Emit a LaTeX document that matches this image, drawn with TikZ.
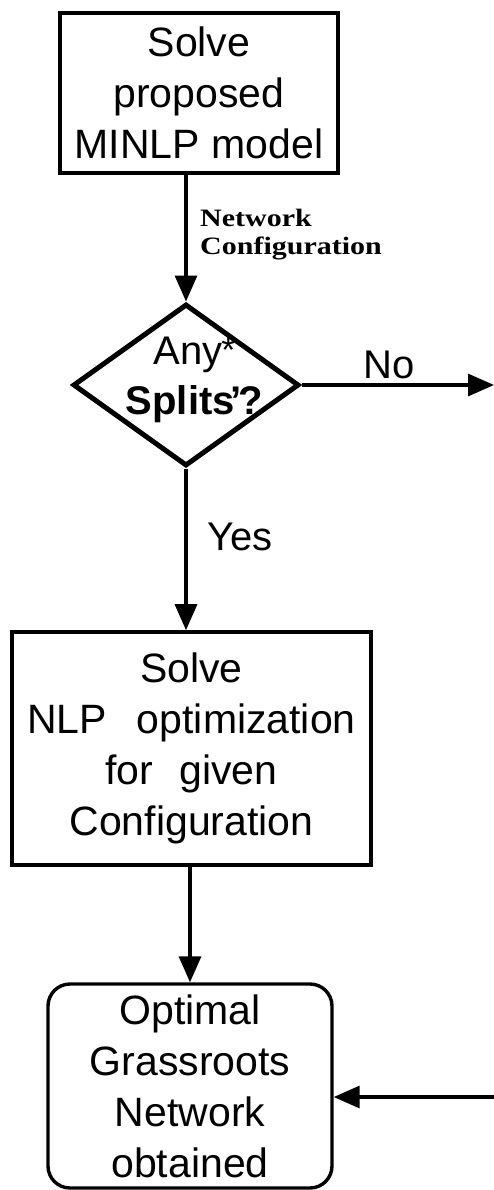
\documentclass[tikz,border=0pt]{standalone}
\usepackage{fontspec}
\usepackage{graphicx}
\setmainfont{Liberation Sans}
\newfontfamily\labelfont{Liberation Serif}
\usetikzlibrary{shapes.geometric,arrows.meta}

\tikzset{
  flowtext/.style={font=\fontsize{41}{51}\selectfont, align=center},
  procbox/.style={draw, rectangle, line width=3.6pt, inner sep=0pt, flowtext},
  endbox/.style={draw, rectangle, rounded corners=22pt, line width=3.4pt, inner sep=0pt, flowtext},
  decision/.style={draw, diamond, line width=5pt, inner sep=0pt},
  flow/.style={line width=3.3pt, -{Triangle[length=26pt,width=22pt]}},
  edgelabel/.style={font=\fontsize{40}{50}\selectfont, inner sep=0pt},
}

\begin{document}
\begin{tikzpicture}[x=1pt,y=1pt]
  \useasboundingbox (0,0) rectangle (494,-1190);

  % process steps
  \node[procbox, minimum width=278pt, minimum height=160pt] (minlp) at (199,-93)
    {Solve\\proposed\\MINLP model};
  \node[decision, minimum width=226pt, minimum height=162pt] (split) at (186,-385) {};
  \node[edgelabel, align=center] (splitq) at (194.5,-379.7)
    {Any\kern-1pt\smash{\raisebox{2pt}{\fontsize{36}{36}\selectfont *}}\\\textbf{Splits\kern-4pt'\kern-3pt?}};
  \node[procbox, minimum width=359pt, minimum height=233pt] (nlp) at (191.5,-748.5)
    {Solve\\NLP\hspace{30pt}optimization\\for\hspace{26pt}given\\Configuration};
  \node[endbox, minimum width=284pt, minimum height=204pt] (opt) at (190,-1086)
    {Optimal\\Grassroots\\Network\\obtained};

  % connector labels
  \node[anchor=base west, inner sep=0pt,
        font=\labelfont\bfseries\fontsize{25}{28}\selectfont] (netcfg) at (200,-227)
    {\begin{tabular}[t]{@{}l@{}}\scalebox{1.2}[1]{Network}\\\scalebox{1.2}[1]{Configuration}\end{tabular}};
  \node[edgelabel, anchor=base west] (nolabel) at (363,-378) {No};
  \node[edgelabel, anchor=base west] (yeslabel) at (207,-550) {Yes};

  % loose ends at the right margin
  \coordinate (noexit) at (494,-385);
  \coordinate (loopin) at (494,-1097);

  % connectors
  \draw[flow] (minlp.south -| split.north) -- (split.north);
  \draw[flow] (split.east) -- (noexit);
  \draw[flow] (split.south) -- (split.south |- nlp.north);
  \draw[flow] (nlp.south -| opt.north) -- (opt.north);
  \draw[flow] (loopin) -- (loopin -| opt.east);
\end{tikzpicture}
\end{document}
